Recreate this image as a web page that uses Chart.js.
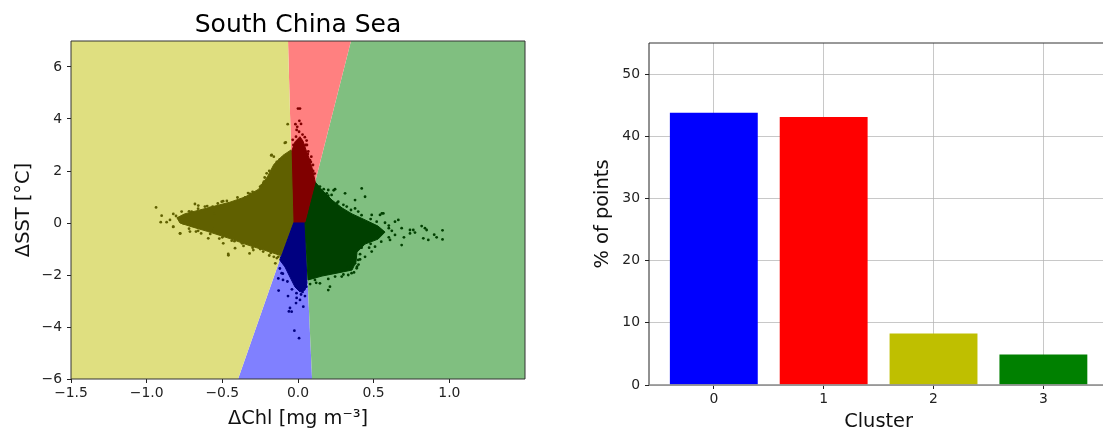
<!DOCTYPE html>
<html lang="en">
<head>
<meta charset="UTF-8">
<title>South China Sea clusters</title>
<script src="https://cdn.jsdelivr.net/npm/chart.js"></script>
<style>
  html, body { margin: 0; padding: 0; background: #fff; overflow: hidden; width: 1103px; height: 434px; }
  #scatter { position: absolute; left: 0; top: 0; }
  #bars { position: absolute; left: 560px; top: 0; }
</style>
</head>
<body>
<canvas id="scatter" width="560" height="434"></canvas>
<canvas id="bars" width="560" height="434"></canvas>
<script>
// ---- left panel: cluster regions, corners as [dChl, dSST] ----
const regionYellow = [[-1.5, 7], [-0.066, 7], [-0.033, 0.04], [-0.396, -6], [-1.5, -6]];
const regionRed = [[-0.066, 7], [0.35, 7], [0.046, 0.04], [-0.033, 0.04]];
const regionGreen = [[0.35, 7], [1.5, 7], [1.5, -6], [0.093, -6], [0.046, 0.04]];
const regionBlue = [[-0.033, 0.04], [0.046, 0.04], [0.093, -6], [-0.396, -6]];

// dense part of each point cloud (outline)
const coreOlive = [[-0.046, 2.81], [-0.1, 2.6], [-0.16, 2.25], [-0.2, 1.8], [-0.26, 1.3], [-0.35, 1.0], [-0.45, 0.8],
  [-0.55, 0.65], [-0.65, 0.5], [-0.75, 0.35], [-0.8, 0.2], [-0.78, 0.0], [-0.7, -0.15], [-0.6, -0.32], [-0.45, -0.6],
  [-0.33, -0.85], [-0.22, -1.05], [-0.115, -1.25], [-0.033, 0.04]];
const coreRed = [[0.013, 3.32], [0.033, 3.15], [0.053, 2.81], [0.073, 2.5], [0.093, 2.12], [0.114, 1.58],
  [0.046, 0.04], [-0.033, 0.04], [-0.041, 1.65], [-0.045, 2.7], [-0.02, 3.12]];
const coreGreen = [[0.113, 1.58], [0.159, 1.27], [0.225, 0.88], [0.291, 0.58], [0.357, 0.35], [0.443, 0.12],
  [0.529, -0.12], [0.575, -0.35], [0.529, -0.62], [0.443, -0.81], [0.39, -1.12], [0.383, -1.5], [0.357, -1.81],
  [0.264, -1.92], [0.159, -2.04], [0.066, -2.19], [0.046, 0.04]];
const coreBlue = [[-0.033, 0.04], [0.046, 0.04], [0.059, -2.31], [0.046, -2.58], [0.013, -2.65], [-0.02, -2.46],
  [-0.053, -2.08], [-0.086, -1.69], [-0.121, -1.42]];

// scattered points outside the dense parts
const ptsOlive = [[-0.938, 0.6], [-0.901, 0.28], [-0.907, 0.03], [-0.868, 0.03], [-0.824, 0.35], [-0.806, 0.27],
  [-0.784, 0.18], [-0.769, 0.44], [-0.758, -0.01], [-0.74, 0.27], [-0.718, 0.14], [-0.703, 0.44], [-0.681, 0.73],
  [-0.659, 0.67], [-0.692, -0.08], [-0.78, -0.4], [-0.714, -0.33], [-0.674, -0.33], [-0.615, 0.63], [-0.564, 0.63],
  [-0.555, 0.37], [-0.593, -0.59], [-0.504, 0.82], [-0.494, -0.78], [-0.461, -1.19], [-0.438, -0.68], [-0.416, -0.97],
  [-0.383, 0.88], [-0.317, 1.12], [-0.295, -1.04], [-0.284, -0.85], [-0.262, -0.72], [-0.229, 1.53], [-0.527, -0.4],
  [-0.57, -0.2], [-0.824, -0.14], [-0.846, 0.12], [-0.825, -0.15], [-0.778, -0.4], [-0.71, 0.37], [-0.495, 0.84],
  [-0.46, -1.24], [-0.32, -1.17], [-0.177, 2.6], [-0.16, 2.55], [-0.087, 3.08], [-0.068, 3.8], [-0.081, 3.1],
  [-0.15, -1.55], [-0.174, 2.62], [-0.225, 1.59], [-0.207, 1.91], [-0.25, 1.4], [-0.35, 0.98], [-0.44, 0.75],
  [-0.58, 0.58], [-0.64, -0.4], [-0.52, -0.6], [-0.36, -0.88], [-0.23, -1.1], [-0.19, -1.25], [-0.14, -1.35],
  [-0.12, 2.45], [-0.14, 2.35], [-0.19, 2.0], [-0.22, 1.75], [-0.24, 1.45], [-0.3, 1.2], [-0.33, 1.15], [-0.4, 0.98],
  [-0.47, 0.85], [-0.53, 0.75], [-0.6, 0.65], [-0.66, 0.55], [-0.72, 0.45], [-0.72, -0.22], [-0.66, -0.3],
  [-0.58, -0.42], [-0.5, -0.55], [-0.42, -0.7], [-0.37, -0.78], [-0.3, -0.95], [-0.25, -1.0], [-0.18, -1.15],
  [-0.13, -1.3], [-0.16, -1.3]];
const ptsRed = [[0.013, 4.4], [0, 4.4], [0.009, 3.93], [-0.005, 3.7], [-0.009, 3.58], [0.007, 3.51], [0.057, 3.17],
  [-0.013, 3.32], [0.059, 3], [0.079, 2.42], [0.099, 2.23], [0.02, 3.81], [-0.017, 3.8], [0.03, 3.4], [0.045, 3.3],
  [0.068, 2.75], [0.088, 2.55], [0.11, 1.9], [0.1, 2.0], [0.085, 2.35], [0.065, 2.65], [0.05, 3.0], [-0.03, 3.0],
  [-0.035, 3.2]];
const ptsGreen = [[0.145, 1.4], [0.19, 1.14], [0.245, 1.3], [0.266, 0.82], [0.322, 0.63], [0.377, 0.56], [0.398, 0.44],
  [0.487, 0.31], [0.542, 0.31], [0.564, 0.37], [0.575, 0.01], [0.641, 0.05], [0.663, 0.12], [0.685, -0.2], [0.74, -0.27],
  [0.74, -0.4], [0.773, -0.37], [0.817, -0.12], [0.85, -0.27], [0.828, -0.59], [0.861, -0.65], [0.955, -0.28],
  [0.955, -0.63], [0.916, -0.55], [0.641, -0.46], [0.608, -0.65], [0.685, -0.85], [0.531, -0.4], [0.509, -0.91],
  [0.487, -1.1], [0.443, -1.3], [0.398, -1.42], [0.377, -1.55], [0.388, -1.74], [0.332, -2.0], [0.289, -2.06],
  [0.211, -2.45], [0.2, -2.58], [0.112, -2.19], [0.145, -2.32], [0.245, -2.06], [0.332, -1.68], [0.421, 1.33],
  [0.377, 0.88], [0.443, 1.01], [0.311, 1.14], [0.2, 1.27], [0.222, 1.08], [0.762, -0.27], [0.839, -0.2],
  [0.554, 0.37], [0.39, -1.68], [0.354, -1.93], [0.13, 1.39], [0.236, 1.26], [0.6, -0.2], [0.7, -0.55],
  [0.47, -0.95], [0.9, -0.45], [0.17, 1.3], [0.2, 1.05], [0.26, 0.78], [0.3, 0.7], [0.35, 0.5], [0.42, 0.3],
  [0.48, 0.15], [0.52, 0.05], [0.6, -0.1], [0.62, -0.3], [0.6, -0.55], [0.55, -0.72], [0.48, -0.8], [0.42, -0.95],
  [0.41, -1.2], [0.41, -1.4], [0.4, -1.6], [0.37, -1.9], [0.3, -1.98], [0.2, -2.15], [0.12, -2.3], [0.08, -2.35]];
const ptsBlue = [[-0.009, -2.88], [0.013, -2.96], [-0.053, -3.27], [-0.042, -3.41], [-0.024, -4.14], [0.007, -4.43],
  [-0.128, -2.6], [-0.108, -1.93], [-0.13, -2.13], [0.035, -3.22], [-0.013, -3.08], [0.046, -2.81], [-0.066, -2.81],
  [-0.099, -2.19], [-0.06, -3.4], [0.02, -2.75], [0.055, -2.45], [0.03, -2.65], [-0.01, -2.7], [-0.04, -2.55],
  [-0.07, -2.25], [-0.1, -1.95], [-0.12, -1.75]];

const chlTicks = [-1.5, -1.0, -0.5, 0.0, 0.5, 1.0];
const sstTicks = [-6, -4, -2, 0, 2, 4, 6];

// ---- right panel ----
const clusters = [0, 1, 2, 3];
const percent = [43.8, 43.1, 8.3, 4.9];
const barColors = ['#0000ff', '#ff0000', '#bfbf00', '#008000'];
const percentTicks = [0, 10, 20, 30, 40, 50];

Chart.defaults.font.family = "'DejaVu Sans', sans-serif";
Chart.defaults.color = '#222';

const toXY = arr => arr.map(([x, y]) => ({x, y}));
const minus = (v, d) => (d ? v.toFixed(d) : String(v)).replace('-', '\u2212');

function area(corners, color, order, edge) {
  return {
    data: toXY([...corners, corners[0]]),
    showLine: true, fill: 'shape', tension: 0,
    backgroundColor: color,
    borderColor: edge ? color : 'rgba(0,0,0,0)', borderWidth: 1,
    pointRadius: 0, order
  };
}
function dots(points, color) {
  return { data: toXY(points), backgroundColor: color, borderWidth: 0, pointRadius: 1.4, order: 0 };
}

function framePlugin(sides) {
  return {
    id: 'frame',
    afterDraw(chart) {
      const {left, right, top, bottom} = chart.chartArea;
      const ctx = chart.ctx;
      ctx.save();
      for (const s of sides) {
        ctx.strokeStyle = s.color;
        ctx.lineWidth = s.width;
        ctx.beginPath();
        if (s.side === 'top') { ctx.moveTo(left, top); ctx.lineTo(right, top); }
        if (s.side === 'bottom') { ctx.moveTo(left, bottom); ctx.lineTo(right, bottom); }
        if (s.side === 'left') { ctx.moveTo(left, top); ctx.lineTo(left, bottom); }
        if (s.side === 'right') { ctx.moveTo(right, top); ctx.lineTo(right, bottom); }
        ctx.stroke();
      }
      ctx.restore();
    }
  };
}

const tickFont = {size: 13.9};
const labelFont = {size: 19.4};

new Chart(document.getElementById('scatter'), {
  type: 'scatter',
  data: {
    datasets: [
      area(regionYellow, 'rgb(223,223,128)', 3),
      area(regionRed, 'rgb(255,128,128)', 3),
      area(regionGreen, 'rgb(128,191,128)', 3),
      area(regionBlue, 'rgb(128,128,255)', 3),
      area(coreOlive, 'rgb(96,96,0)', 2, true),
      area(coreRed, 'rgb(128,0,0)', 2, true),
      area(coreGreen, 'rgb(0,64,0)', 2, true),
      area(coreBlue, 'rgb(0,0,128)', 2, true),
      dots(ptsOlive, 'rgb(96,96,0)'),
      dots(ptsRed, 'rgb(128,0,0)'),
      dots(ptsGreen, 'rgb(0,64,0)'),
      dots(ptsBlue, 'rgb(0,0,128)')
    ]
  },
  options: {
    responsive: false,
    animation: false,
    events: [],
    layout: { padding: { left: 0, right: 35, top: 0, bottom: 0 } },
    plugins: {
      legend: { display: false },
      tooltip: { enabled: false },
      title: {
        display: true, fullSize: false, text: 'South China Sea', color: '#000',
        font: {size: 25, weight: 'normal'}, padding: {top: 10, bottom: 1}
      }
    },
    scales: {
      x: {
        type: 'linear', min: -1.5, max: 1.5,
        afterBuildTicks: s => { s.ticks = chlTicks.map(v => ({value: v})); },
        afterFit: s => { s.height = 55; },
        ticks: { callback: v => minus(v, 1), font: tickFont, padding: 2, maxRotation: 0, autoSkip: false },
        grid: { drawOnChartArea: false, tickLength: 4, tickColor: '#222' },
        border: { display: false },
        title: { display: true, text: '\u0394Chl [mg m\u207B\u00B3]', font: labelFont, color: '#111', padding: {top: 0, bottom: 3.6} }
      },
      y: {
        type: 'linear', min: -6, max: 7,
        afterBuildTicks: s => { s.ticks = sstTicks.map(v => ({value: v})); },
        afterFit: s => { s.width = 71; },
        ticks: { callback: v => minus(v, 0), font: tickFont, padding: 5, autoSkip: false },
        grid: { drawOnChartArea: false, tickLength: 4, tickColor: '#222' },
        border: { display: false },
        title: { display: true, text: '\u0394SST [\u00B0C]', font: labelFont, color: '#111', padding: {top: 12.6, bottom: 0} }
      }
    }
  },
  plugins: [framePlugin([
    {side: 'top', color: '#333', width: 1}, {side: 'bottom', color: '#333', width: 1},
    {side: 'left', color: '#333', width: 1}, {side: 'right', color: '#333', width: 1}
  ])]
});

const gridColor = 'rgba(176,176,176,0.7)';

new Chart(document.getElementById('bars'), {
  type: 'bar',
  data: {
    datasets: [{
      data: clusters.map((c, i) => ({x: c, y: percent[i]})),
      backgroundColor: barColors,
      barPercentage: 1,
      categoryPercentage: 0.8
    }]
  },
  options: {
    responsive: false,
    animation: false,
    events: [],
    layout: { padding: { left: 0, right: 11.8, top: 43, bottom: 0 } },
    plugins: { legend: { display: false }, tooltip: { enabled: false } },
    scales: {
      x: {
        type: 'linear', min: -0.59, max: 3.59, offset: false, z: 1,
        afterBuildTicks: s => { s.ticks = clusters.map(v => ({value: v})); },
        afterFit: s => { s.height = 49; },
        ticks: { font: tickFont, padding: 2, maxRotation: 0, autoSkip: false },
        grid: { offset: false, color: gridColor, lineWidth: 1, tickLength: 4, tickColor: '#222' },
        border: { display: false },
        title: { display: true, text: 'Cluster', font: labelFont, color: '#111', padding: {top: 0, bottom: 0.6} }
      },
      y: {
        type: 'linear', min: 0, max: 55, z: 1,
        afterBuildTicks: s => { s.ticks = percentTicks.map(v => ({value: v})); },
        afterFit: s => { s.width = 89; },
        ticks: { font: tickFont, padding: 5, autoSkip: false },
        grid: { color: gridColor, lineWidth: 1, tickLength: 4, tickColor: '#222' },
        border: { display: false },
        title: { display: true, text: '% of points', font: labelFont, color: '#111', padding: {top: 31.6, bottom: 0} }
      }
    }
  },
  plugins: [framePlugin([
    {side: 'top', color: '#333', width: 1}, {side: 'left', color: '#222', width: 1},
    {side: 'bottom', color: '#888', width: 1.5}
  ])]
});
</script>
</body>
</html>
